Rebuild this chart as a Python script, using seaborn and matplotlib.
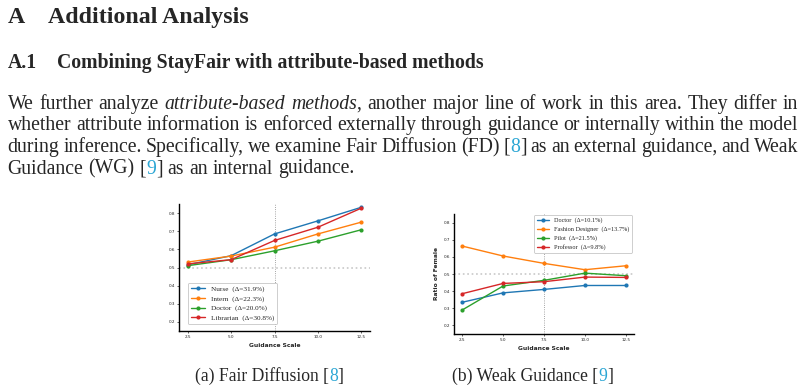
import matplotlib
matplotlib.use('Agg')
import matplotlib.pyplot as plt
import seaborn as sns
import pandas as pd

# data
scales = [2.5, 5.0, 7.5, 10.0, 12.5]

fd_labels = ['Nurse', 'Intern', 'Doctor', 'Librarian']
fd_deltas = [31.9, 22.3, 20.0, 30.8]
fd_nurse = [0.515, 0.565, 0.685, 0.757, 0.832]
fd_intern = [0.530, 0.563, 0.612, 0.685, 0.750]
fd_doctor = [0.510, 0.543, 0.592, 0.645, 0.708]
fd_librarian = [0.520, 0.543, 0.649, 0.722, 0.827]

wg_labels = ['Doctor', 'Fashion Designer', 'Pilot', 'Professor']
wg_deltas = [10.1, 13.7, 21.5, 9.8]
wg_doctor = [0.335, 0.390, 0.410, 0.433, 0.433]
wg_fashion = [0.663, 0.605, 0.562, 0.525, 0.548]
wg_pilot = [0.290, 0.430, 0.463, 0.505, 0.490]
wg_professor = [0.385, 0.445, 0.455, 0.482, 0.480]

sns.set_style('ticks')
plt.rcParams['font.family'] = ['DejaVu Sans']
colors = sns.color_palette('tab10')[:4]
SERIF = 'Liberation Serif'
CITE = '#2ba6d4'

W, H = 806, 390
fig = plt.figure(figsize=(W / 100, H / 100), dpi=100)
fig.patch.set_facecolor('white')
r = fig.canvas.get_renderer()


def fx(x):
    return x / W


def fy(y):
    return 1 - y / H


def text_w(s, size, **kw):
    t = fig.text(0, 0, s, fontsize=size, family=SERIF, **kw)
    w = t.get_window_extent(r).width
    t.remove()
    return w


def fit(s, target, **kw):
    return 10 * target / text_w(s, 10, **kw)


# headings
title_size = fit('Additional Analysis', 200, weight='bold')
fig.text(fx(7.5), fy(22.7), 'A', fontsize=title_size, family=SERIF, weight='bold', va='baseline')
fig.text(fx(48), fy(22.7), 'Additional Analysis', fontsize=title_size, family=SERIF,
         weight='bold', va='baseline')
sub_size = fit('Combining StayFair with attribute-based methods', 426, weight='bold')
fig.text(fx(7.5), fy(67.7), 'A.1', fontsize=sub_size, family=SERIF, weight='bold', va='baseline')
fig.text(fx(57), fy(67.7), 'Combining StayFair with attribute-based methods', fontsize=sub_size,
         family=SERIF, weight='bold', va='baseline')

# body paragraph, justified line by line
body = fit('Guidance (WG) [9] as an internal guidance.', 347.5)
N, I, C = {}, {'style': 'italic'}, {'color': CITE}
lines = [
    [[('We', N)], [('further', N)], [('analyze', N)], [('attribute-based', I)],
     [('methods', I), (',', N)], [('another', N)], [('major', N)], [('line', N)], [('of', N)],
     [('work', N)], [('in', N)], [('this', N)], [('area.', N)], [('They', N)], [('differ', N)],
     [('in', N)]],
    [[(w, N)] for w in 'whether attribute information is enforced externally through guidance '
     'or internally within the model'.split()],
    [[(w, N)] for w in 'during inference. Specifically, we examine Fair Diffusion (FD)'.split()]
    + [[('[', N), ('8', C), (']', N)]]
    + [[(w, N)] for w in 'as an external guidance, and Weak'.split()],
    [[(w, N)] for w in 'Guidance (WG)'.split()] + [[('[', N), ('9', C), (']', N)]]
    + [[(w, N)] for w in 'as an internal guidance.'.split()],
]
space = text_w('a b', body) - text_w('ab', body)
left, right = 7.5, 798.5
for i, words in enumerate(lines):
    base = 109 + 21.5 * i
    widths = [[text_w(p, body, **st) for p, st in wd] for wd in words]
    total = sum(sum(w) for w in widths)
    gap = (right - left - total) / (len(words) - 1) if i < 3 else space
    x = left
    for wd, ws in zip(words, widths):
        for (p, st), w in zip(wd, ws):
            fig.text(fx(x), fy(base), p, fontsize=body, family=SERIF, va='baseline', **st)
            x += w
        x += gap

# captions
cap = fit('(a) Fair Diffusion [8]', 149)
for cx, parts in [(195, [('(a) Fair Diffusion [', N), ('8', C), (']', N)]),
                  (452, [('(b) Weak Guidance [', N), ('9', C), (']', N)])]:
    x = cx
    for p, st in parts:
        fig.text(fx(x), fy(381), p, fontsize=cap, family=SERIF, va='baseline', **st)
        x += text_w(p, cap, **st)


def draw_panel(ax, series, labels, deltas, legend_kw):
    ax.axhline(0.5, color='#c8c8c8', ls=':', lw=1.2, zorder=0)
    ax.axvline(7.5, color='#888888', ls=':', lw=0.6, zorder=0)
    for vals, lab, d, c in zip(series, labels, deltas, colors):
        df = pd.DataFrame({'scale': scales, 'ratio': vals})
        sns.lineplot(data=df, x='scale', y='ratio', ax=ax, color=c, lw=1.0, marker='o',
                     markersize=3.0, markeredgewidth=0, label=f'{lab}  (\u0394={d:.1f}%)')
    ax.set_xlim(2.0, 13.0)
    ax.set_ylim(0.15, 0.85)
    ax.set_xticks(scales)
    ax.set_xticklabels([f'{s:.1f}' for s in scales])
    ax.set_yticks([0.2, 0.3, 0.4, 0.5, 0.6, 0.7, 0.8])
    ax.tick_params(labelsize=3, length=1.2, width=0.5, pad=1.5, colors='#222222')
    ax.set_xlabel('Guidance Scale', fontsize=4.3, weight='bold', labelpad=3)
    for s in ['left', 'bottom']:
        ax.spines[s].set_linewidth(1.0)
        ax.spines[s].set_color('black')
    sns.despine(ax=ax)
    leg = ax.legend(prop={'family': SERIF, 'size': legend_kw.pop('size')}, handlelength=2.0,
                    borderaxespad=0, framealpha=1, edgecolor='#bbbbbb', **legend_kw)
    leg.get_frame().set_linewidth(0.5)


ax1 = fig.add_axes([fx(179), fy(331), (370 - 179) / W, (331 - 204) / H])
draw_panel(ax1, [fd_nurse, fd_intern, fd_doctor, fd_librarian], fd_labels, fd_deltas,
           dict(loc='lower left', bbox_to_anchor=(9 / 191, 7 / 127), size=5.2,
                labelspacing=0.45))
ax1.set_ylabel('')

ax2 = fig.add_axes([fx(454), fy(334), (634 - 454) / W, (334 - 214) / H])
draw_panel(ax2, [wg_doctor, wg_fashion, wg_pilot, wg_professor], wg_labels, wg_deltas,
           dict(loc='upper right', bbox_to_anchor=(178 / 180, 119 / 120), size=4.5,
                labelspacing=0.5))
ax2.set_ylabel('Ratio of Female', fontsize=4.3, weight='bold')
ax2.yaxis.set_label_coords(-15 / 180, 0.5)

fig.savefig('out.png', dpi=100)
